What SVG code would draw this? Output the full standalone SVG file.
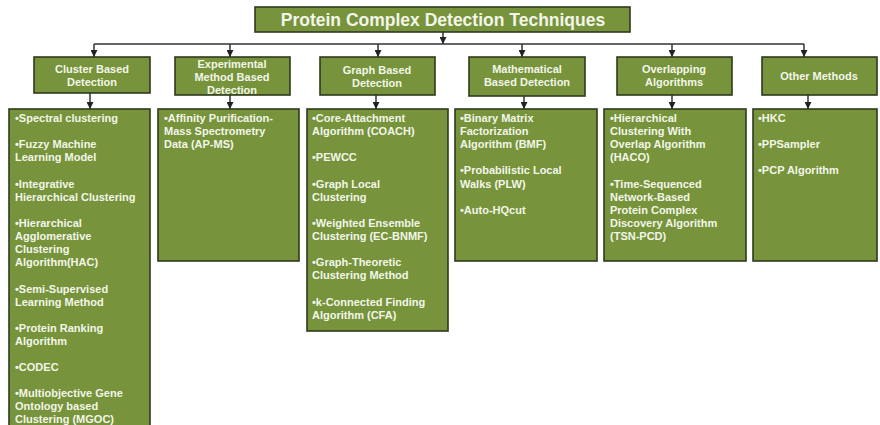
<svg xmlns="http://www.w3.org/2000/svg" width="880" height="425" viewBox="0 0 880 425">
<defs>
<marker id="ah" viewBox="0 0 10 10" refX="10" refY="5" markerWidth="7" markerHeight="7" markerUnits="userSpaceOnUse" orient="auto">
<path d="M0,0 L10,5 L0,10 z" fill="#222"/>
</marker>
</defs>
<style>
.box{fill:#77933C;stroke:#2f3a1c;stroke-width:1.6}
.t{font-family:"Liberation Sans",Arial,sans-serif;font-weight:bold;fill:#f2f6e8;font-size:11px}
.h{font-family:"Liberation Sans",Arial,sans-serif;font-weight:bold;fill:#f2f6e8;font-size:11px;text-anchor:middle}
.title{font-family:"Liberation Sans",Arial,sans-serif;font-weight:bold;fill:#f2f6e8;font-size:17.5px;text-anchor:middle}
.c{stroke:#333;stroke-width:1.5;fill:none}
.ca{stroke:#333;stroke-width:1.5;fill:none;marker-end:url(#ah)}
</style>
<rect width="880" height="425" fill="#fff"/>
<g id="connectors">
<line class="ca" x1="443" y1="32" x2="443" y2="44"/>
<line class="c" x1="94" y1="44" x2="804" y2="44"/>
<line class="ca" x1="94" y1="44" x2="94" y2="57"/>
<line class="ca" x1="230" y1="44" x2="230" y2="57"/>
<line class="ca" x1="378" y1="44" x2="378" y2="57"/>
<line class="ca" x1="522" y1="44" x2="522" y2="57"/>
<line class="ca" x1="672" y1="44" x2="672" y2="57"/>
<line class="ca" x1="804" y1="44" x2="804" y2="57"/>
<line class="ca" x1="90" y1="93" x2="90" y2="109"/>
<line class="ca" x1="230" y1="95" x2="230" y2="109"/>
<line class="ca" x1="376" y1="95" x2="376" y2="109"/>
<line class="ca" x1="524" y1="96" x2="524" y2="109"/>
<line class="ca" x1="672" y1="95" x2="672" y2="109"/>
<line class="ca" x1="808" y1="95" x2="808" y2="109"/>
</g>
<g id="title">
<rect class="box" x="255" y="7" width="375" height="25"/>
<text class="title" x="443" y="26">Protein Complex Detection Techniques</text>
</g>
<g id="h-cluster">
<rect class="box" x="34" y="57" width="116" height="36"/>
<text class="h" x="92" y="73">Cluster Based</text>
<text class="h" x="92" y="86">Detection</text>
</g>
<g id="h-experimental">
<rect class="box" x="175" y="57" width="115" height="38"/>
<text class="h" x="232" y="68">Experimental</text>
<text class="h" x="232" y="81">Method Based</text>
<text class="h" x="232" y="94">Detection</text>
</g>
<g id="h-graph">
<rect class="box" x="320" y="57" width="115" height="38"/>
<text class="h" x="377" y="74">Graph Based</text>
<text class="h" x="377" y="87">Detection</text>
</g>
<g id="h-math">
<rect class="box" x="469" y="57" width="116" height="39"/>
<text class="h" x="527" y="73">Mathematical</text>
<text class="h" x="527" y="86">Based Detection</text>
</g>
<g id="h-overlap">
<rect class="box" x="617" y="57" width="115" height="38"/>
<text class="h" x="674" y="73">Overlapping</text>
<text class="h" x="674" y="86">Algorithms</text>
</g>
<g id="h-other">
<rect class="box" x="762" y="57" width="115" height="38"/>
<text class="h" x="819" y="80">Other Methods</text>
</g>
<g id="c-cluster">
<rect class="box" x="9" y="109" width="141" height="330"/>
<text class="t" x="15" y="122">•Spectral clustering</text>
<text class="t" x="15" y="148">•Fuzzy Machine</text>
<text class="t" x="15" y="161">Learning Model</text>
<text class="t" x="15" y="188">•Integrative</text>
<text class="t" x="15" y="201">Hierarchical Clustering</text>
<text class="t" x="15" y="227">•Hierarchical</text>
<text class="t" x="15" y="240">Agglomerative</text>
<text class="t" x="15" y="253">Clustering</text>
<text class="t" x="15" y="266">Algorithm(HAC)</text>
<text class="t" x="15" y="293">•Semi-Supervised</text>
<text class="t" x="15" y="306">Learning Method</text>
<text class="t" x="15" y="332">•Protein Ranking</text>
<text class="t" x="15" y="345">Algorithm</text>
<text class="t" x="15" y="371">•CODEC</text>
<text class="t" x="15" y="397">•Multiobjective Gene</text>
<text class="t" x="15" y="410">Ontology based</text>
<text class="t" x="15" y="423">Clustering (MGOC)</text>
</g>
<g id="c-experimental">
<rect class="box" x="158" y="109" width="141" height="152"/>
<text class="t" x="164" y="122">•Affinity Purification-</text>
<text class="t" x="164" y="135">Mass Spectrometry</text>
<text class="t" x="164" y="148">Data (AP-MS)</text>
</g>
<g id="c-graph">
<rect class="box" x="307" y="109" width="141" height="222"/>
<text class="t" x="312" y="122">•Core-Attachment</text>
<text class="t" x="312" y="135">Algorithm (COACH)</text>
<text class="t" x="312" y="161">•PEWCC</text>
<text class="t" x="312" y="188">•Graph Local</text>
<text class="t" x="312" y="201">Clustering</text>
<text class="t" x="312" y="227">•Weighted Ensemble</text>
<text class="t" x="312" y="240">Clustering (EC-BNMF)</text>
<text class="t" x="312" y="266">•Graph-Theoretic</text>
<text class="t" x="312" y="279">Clustering Method</text>
<text class="t" x="312" y="306">•k-Connected Finding</text>
<text class="t" x="312" y="319">Algorithm (CFA)</text>
</g>
<g id="c-math">
<rect class="box" x="455" y="109" width="142" height="152"/>
<text class="t" x="460" y="122">•Binary Matrix</text>
<text class="t" x="460" y="135">Factorization</text>
<text class="t" x="460" y="148">Algorithm (BMF)</text>
<text class="t" x="460" y="174">•Probabilistic Local</text>
<text class="t" x="460" y="188">Walks (PLW)</text>
<text class="t" x="460" y="214">•Auto-HQcut</text>
</g>
<g id="c-overlap">
<rect class="box" x="604" y="109" width="142" height="152"/>
<text class="t" x="610" y="122">•Hierarchical</text>
<text class="t" x="610" y="135">Clustering With</text>
<text class="t" x="610" y="148">Overlap Algorithm</text>
<text class="t" x="610" y="161">(HACO)</text>
<text class="t" x="610" y="188">•Time-Sequenced</text>
<text class="t" x="610" y="201">Network-Based</text>
<text class="t" x="610" y="214">Protein Complex</text>
<text class="t" x="610" y="227">Discovery Algorithm</text>
<text class="t" x="610" y="240">(TSN-PCD)</text>
</g>
<g id="c-other">
<rect class="box" x="753" y="109" width="124" height="152"/>
<text class="t" x="758" y="122">•HKC</text>
<text class="t" x="758" y="148">•PPSampler</text>
<text class="t" x="758" y="174">•PCP Algorithm</text>
</g>
</svg>
